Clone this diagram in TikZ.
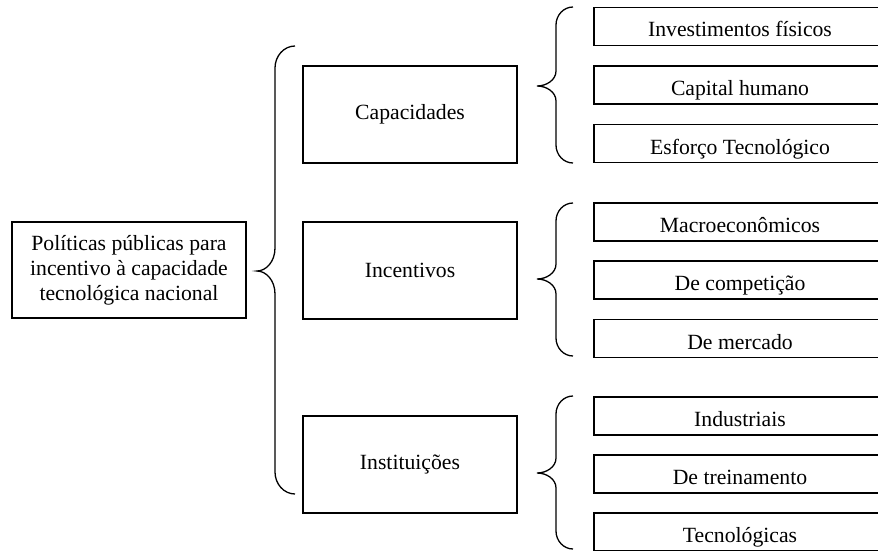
\documentclass[tikz,border=0pt]{standalone}
\usepackage{fontspec}
\setmainfont{Liberation Serif}
% Curly brace opening to the right:
% #1 tip x, #2 spine x, #3 end x, #4 top y, #5 tip y, #6 bottom y, #7 end bend height, #8 half height of the tip bend
\newcommand{\curlybrace}[8]{%
  \draw[bracestroke] (#3,#4)
    .. controls ({#2+0.45*(#3-#2)},#4) and (#2,{#4+0.45*#7}) .. (#2,{#4+#7})
    -- (#2,{#5-#8})
    .. controls (#2,{#5-0.4*#8}) and ({#1+0.5*(#2-#1)},#5) .. (#1,#5)
    .. controls ({#1+0.5*(#2-#1)},#5) and (#2,{#5+0.4*#8}) .. (#2,{#5+#8})
    -- (#2,{#6-#7})
    .. controls (#2,{#6-0.45*#7}) and ({#2+0.45*(#3-#2)},#6) .. (#3,#6);}
\begin{document}
\begin{tikzpicture}[x=1pt,y=-1pt,
  box/.style={draw=black, line width=1.6pt, align=center, inner sep=0pt,
    font=\fontsize{21.7}{25}\selectfont},
  midbox/.style={box, minimum width=214pt, minimum height=97pt},
  leaf/.style={box, minimum width=292pt, minimum height=38pt,
    text height=22pt, text depth=1pt},
  bracestroke/.style={draw=black, line width=1.3pt},
]
\useasboundingbox (0,0) rectangle (878,551);
\clip (0,0) rectangle (878,551);

% root
\node[box, minimum width=234pt, minimum height=96pt] (root) at (129,270)
  {Políticas públicas para\\incentivo à capacidade\\tecnológica nacional};

% second level
\node[midbox] (cap) at (410,114.5) {Capacidades};
\node[midbox] (inc) at (410,270.5) {Incentivos};
\node[midbox] (ins) at (410,464.5) {Instituições};

% leaves
\node[leaf] (c1) at (740,26.5) {Investimentos físicos};
\node[leaf] (c2) at (740,85) {Capital humano};
\node[leaf] (c3) at (740,143.5) {Esforço Tecnológico};

\node[leaf] (i1) at (740,222) {Macroeconômicos};
\node[leaf] (i2) at (740,280) {De competição};
\node[leaf] (i3) at (740,338.5) {De mercado};

\node[leaf] (s1) at (740,416) {Industriais};
\node[leaf] (s2) at (740,474) {De treinamento};
\node[leaf] (s3) at (740,532) {Tecnológicas};

% braces
\curlybrace{257}{275}{295}{46}{271}{494}{22}{23}
\curlybrace{537}{556}{573}{7}{86}{163}{18}{15}
\curlybrace{537}{556}{573}{203}{279}{356}{18}{15}
\curlybrace{537}{556}{573}{396}{473}{549}{18}{15}
\end{tikzpicture}
\end{document}
